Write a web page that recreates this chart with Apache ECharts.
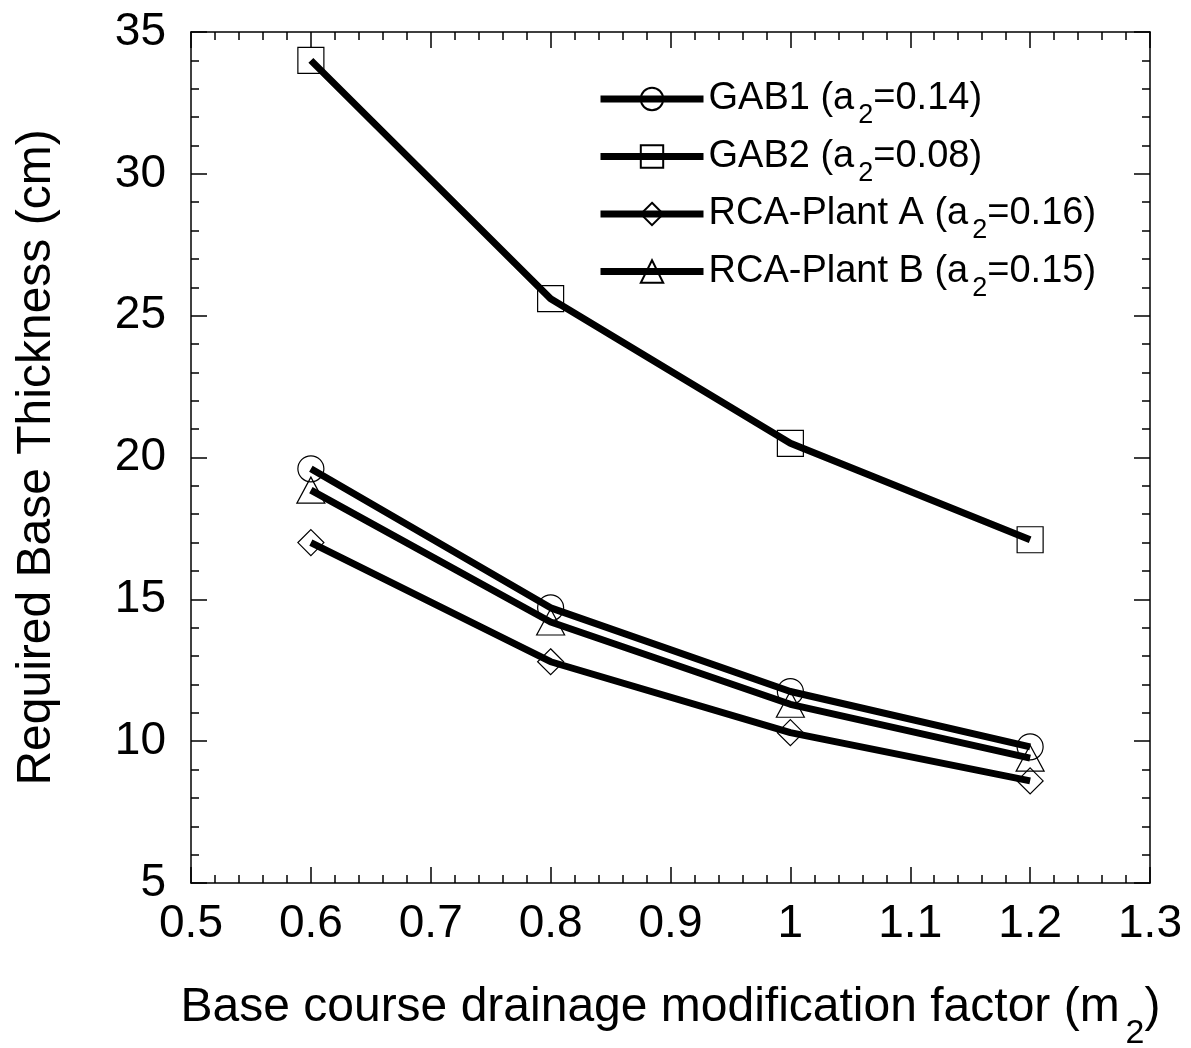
<!DOCTYPE html>
<html><head><meta charset="utf-8">
<script src="https://cdn.jsdelivr.net/npm/echarts@6/dist/echarts.min.js"></script>
<style>html,body{margin:0;padding:0;background:#fff}#c{width:1191px;height:1048px}</style>
</head><body><div id="c"></div>
<script>
const xValues = [0.6, 0.8, 1.0, 1.2];
const gab1 = [19.6, 14.7, 11.75, 9.8];
const gab2 = [34.0, 25.6, 20.5, 17.1];
const rcaA = [17.0, 12.8, 10.3, 8.6];
const rcaB = [18.85, 14.2, 11.3, 9.4];
const seriesNames = ['GAB1 (a{sub|2}=0.14)', 'GAB2 (a{sub|2}=0.08)', 'RCA-Plant A (a{sub|2}=0.16)', 'RCA-Plant B (a{sub|2}=0.15)'];
const symbols = ['circle', 'rect', 'diamond', 'triangle'];
const seriesData = [gab1, gab2, rcaA, rcaB];

const FONT = 'Liberation Sans, Arial, sans-serif';
const chart = echarts.init(document.getElementById('c'));
const axisCommon = {
  axisLine: {show: true, onZero: false, lineStyle: {color: '#000', width: 1.5}},
  axisTick: {show: true, inside: true, length: 16, lineStyle: {color: '#000', width: 1.5}},
  minorTick: {show: true, splitNumber: 5, length: 8, lineStyle: {color: '#000', width: 1.5}},
  splitLine: {show: false}
};
const option = {
  animation: false,
  backgroundColor: '#fff',
  grid: {left: 191, top: 32, right: 41, bottom: 165, containLabel: false, outerBoundsMode: 'none'},
  legend: {
    orient: 'vertical', left: 597, top: 80, padding: 0, itemWidth: 103, itemHeight: 28, itemGap: 8,
    data: seriesNames,
    formatter: n => n,
    lineStyle: {width: 7, color: '#000'},
    textStyle: {fontFamily: FONT, fontSize: 38, color: '#000',
      rich: {sub: {fontFamily: FONT, fontSize: 27, color: '#000', verticalAlign: 'top', padding: [34,0,0,4]}}}
  },
  xAxis: [
    Object.assign({type: 'value', min: 0.5, max: 1.3, interval: 0.1, position: 'bottom',
      name: 'Base course drainage modification factor (m{sub|2})', nameLocation: 'middle', nameGap: 82,
      nameTextStyle: {fontFamily: FONT, fontSize: 48, color: '#000', verticalAlign: 'top',
        rich: {sub: {fontFamily: FONT, fontSize: 34, color: '#000', padding: [52,0,0,6]}}},
      axisLabel: {fontFamily: FONT, fontSize: 46, color: '#000', margin: 18,
        formatter: v => String(Math.round(v * 10) / 10)}}, axisCommon),
    Object.assign({type: 'value', min: 0.5, max: 1.3, interval: 0.1, position: 'top',
      axisLabel: {show: false}}, axisCommon)
  ],
  yAxis: [
    Object.assign({type: 'value', min: 5, max: 35, interval: 5, position: 'left',
      name: 'Required Base Thickness (cm)', nameLocation: 'middle', nameGap: 130,
      nameTextStyle: {fontFamily: FONT, fontSize: 48, color: '#000'},
      axisLabel: {fontFamily: FONT, fontSize: 46, color: '#000', margin: 25, padding: [0,0,10,0]}}, axisCommon),
    Object.assign({type: 'value', min: 5, max: 35, interval: 5, position: 'right',
      axisLabel: {show: false}}, axisCommon)
  ],
  series: seriesNames.map((n, i) => ({
    name: n, type: 'line', xAxisIndex: 0, yAxisIndex: 0,
    data: xValues.map((x, j) => [x, seriesData[i][j]]),
    symbol: symbols[i], symbolSize: symbols[i] === 'triangle' ? [28, 26] : 26,
    showAllSymbol: true,
    lineStyle: {color: '#000', width: 7},
    itemStyle: {color: 'rgba(255,255,255,0)', borderColor: '#000', borderWidth: 1.2},
    emphasis: {disabled: true}
  }))
};
chart.setOption(option);
</script></body></html>
